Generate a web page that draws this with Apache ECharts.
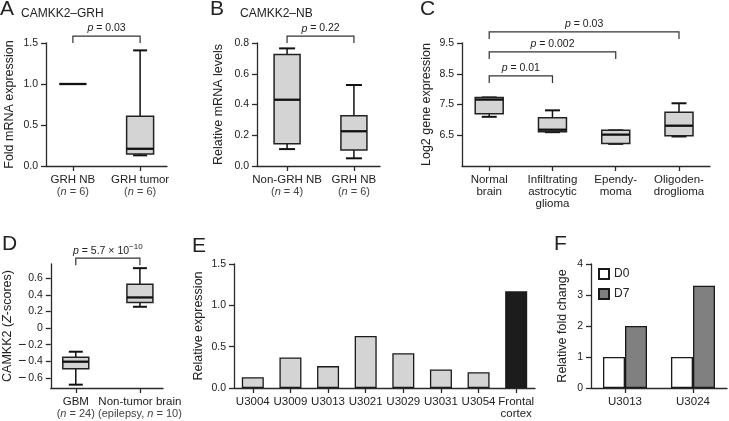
<!DOCTYPE html>
<html>
<head>
<meta charset="utf-8">
<script src="https://cdn.jsdelivr.net/npm/echarts@6/dist/echarts.min.js"></script>
<style>html,body{margin:0;padding:0;background:#fff}#c{width:729px;height:421px}</style>
</head>
<body>
<div id="c"></div>
<script>
// ---------- DATA ----------
const catsA = ['GRH NB', 'GRH tumor'];
const nA = ['6', '6'];
const boxA = [[1.0, 1.0, 1.0, 1.0, 1.0], [0.13, 0.146, 0.21, 0.606, 1.41]];
const pA = '0.03';

const catsB = ['Non-GRH NB', 'GRH NB'];
const nB = ['4', '6'];
const boxB = [[0.11, 0.145, 0.431, 0.726, 0.765], [0.05, 0.104, 0.226, 0.327, 0.527]];
const pB = '0.22';

const catsC = ['Normal\nbrain', 'Infiltrating\nastrocytic\nglioma', 'Ependy-\nmoma', 'Oligoden-\ndroglioma'];
const boxC = [[7.10, 7.20, 7.66, 7.73, 7.73], [6.60, 6.61, 6.68, 7.07, 7.31], [6.22, 6.23, 6.52, 6.66, 6.66], [6.46, 6.48, 6.81, 7.25, 7.54]];
const pC = ['0.01', '0.002', '0.03'];
const ticksC = [6.5, 7.5, 8.5, 9.5];

const catsD = ['GBM', 'Non-tumor brain'];
const subD = [['', '24'], ['epilepsy, ', '10']];
const boxD = [[-0.68, -0.488, -0.404, -0.352, -0.284], [0.256, 0.308, 0.368, 0.528, 0.72]];
const ticksD = [-0.6, -0.4, -0.2, 0, 0.2, 0.4, 0.6];

const catsE = ['U3004', 'U3009', 'U3013', 'U3021', 'U3029', 'U3031', 'U3054', 'Frontal\ncortex'];
const valsE = [0.13, 0.37, 0.265, 0.63, 0.42, 0.225, 0.19, 1.17];

const catsF = ['U3013', 'U3024'];
const d0F = [1.0, 1.0];
const d7F = [2.0, 3.3];

// ---------- STYLE ----------
const FONT = 'Liberation Sans, Arial, Helvetica, sans-serif';
const INK = '#222';
const AX = {color: '#2a2a2a', width: 1.3};

function boxRender(boxW, capW) {
  return function (params, api) {
    const x = api.value(0);
    const pMin = api.coord([x, api.value(1)]);
    const pQ1 = api.coord([x, api.value(2)]);
    const pMed = api.coord([x, api.value(3)]);
    const pQ3 = api.coord([x, api.value(4)]);
    const pMax = api.coord([x, api.value(5)]);
    const cx = pMin[0];
    const ls = {stroke: '#111', lineWidth: 1.5};
    return {
      type: 'group',
      children: [
        {type: 'line', shape: {x1: cx, y1: pMin[1], x2: cx, y2: pQ1[1]}, style: ls},
        {type: 'line', shape: {x1: cx, y1: pQ3[1], x2: cx, y2: pMax[1]}, style: ls},
        {type: 'line', shape: {x1: cx - capW / 2, y1: pMin[1], x2: cx + capW / 2, y2: pMin[1]}, style: {stroke: '#111', lineWidth: 2}},
        {type: 'line', shape: {x1: cx - capW / 2, y1: pMax[1], x2: cx + capW / 2, y2: pMax[1]}, style: {stroke: '#111', lineWidth: 2}},
        {type: 'rect', shape: {x: cx - boxW / 2, y: pQ3[1], width: boxW, height: pQ1[1] - pQ3[1]}, style: {fill: '#d4d4d4', stroke: '#222', lineWidth: 1.5}},
        {type: 'line', shape: {x1: cx - boxW / 2, y1: pMed[1], x2: cx + boxW / 2, y2: pMed[1]}, style: {stroke: '#111', lineWidth: 2.3}}
      ]
    };
  };
}

function bracketRender(texts, sup) {
  return function (params, api) {
    const a = api.coord([api.value(0), api.value(2)]);
    const b = api.coord([api.value(1), api.value(2)]);
    const drop = 7;
    const txt = texts[params.dataIndex];
    return {
      type: 'group',
      children: [
        {type: 'polyline', shape: {points: [[a[0], a[1] + drop], [a[0], a[1]], [b[0], b[1]], [b[0], b[1] + drop]]},
         style: {stroke: '#333', lineWidth: 1.2, fill: null}},
        {type: 'text', x: (a[0] + b[0]) / 2, y: a[1] - 2,
         style: {
           text: sup ? '{i|p}{t| = ' + txt + ' × 10}{s|' + sup + '}' : '{i|p}{t| = ' + txt + '}',
           align: 'center', verticalAlign: 'bottom',
           rich: {
             i: {fontStyle: 'italic', fontSize: 10.5, fontFamily: FONT, fill: INK, lineHeight: 13, verticalAlign: 'bottom'},
             t: {fontSize: 10.5, fontFamily: FONT, fill: INK, lineHeight: 13, verticalAlign: 'bottom'},
             s: {fontSize: 8, fontFamily: FONT, fill: INK, lineHeight: 8, verticalAlign: 'top'}
           }
         }}
      ]
    };
  };
}

function yAx(g, min, max, interval, name, nameGap, fmt, custom) {
  const o = {
    type: 'value', gridIndex: g, min: min, max: max,
    axisLine: {show: true, onZero: false, lineStyle: AX},
    axisTick: {show: true, length: 5, lineStyle: AX},
    splitLine: {show: false},
    axisLabel: {fontSize: 10.5, color: INK, fontFamily: FONT, margin: 8, formatter: fmt,
      rich: {m: {fontSize: 14, color: INK, fontFamily: FONT}}},
    name: name, nameLocation: 'middle', nameGap: nameGap, nameRotate: 90,
    nameTextStyle: {fontSize: 12.5, color: INK, fontFamily: FONT,
      rich: {a: {fontSize: 12.5, color: INK, fontFamily: FONT}, i: {fontSize: 12.5, color: INK, fontFamily: FONT, fontStyle: 'italic'}}}
  };
  if (interval) o.interval = interval;
  if (custom) { o.axisTick.customValues = custom; o.axisLabel.customValues = custom; }
  return o;
}

const richCat = {
  g: {fontSize: 11, color: '#444', fontFamily: FONT, lineHeight: 12},
  gi: {fontSize: 11, color: '#444', fontFamily: FONT, fontStyle: 'italic', lineHeight: 12}
};

function xAx(g, data, fmt) {
  return {
    type: 'category', gridIndex: g, data: data, boundaryGap: true,
    axisLine: {show: true, onZero: false, lineStyle: AX},
    axisTick: {show: true, alignWithLabel: true, length: 5, lineStyle: AX},
    splitLine: {show: false},
    axisLabel: {interval: 0, fontSize: 11.5, color: INK, fontFamily: FONT, margin: 8, lineHeight: 12, formatter: fmt, rich: richCat}
  };
}

// value-type x axis placing the groups at positions 0,1,2,... (labels from the category arrays)
function xVal(g, min, max, cats, fmt) {
  const idx = cats.map((c, i) => i);
  return {
    type: 'value', gridIndex: g, min: min, max: max,
    axisLine: {show: true, onZero: false, lineStyle: AX},
    axisTick: {show: true, length: 5, lineStyle: AX, customValues: idx},
    splitLine: {show: false},
    axisLabel: {fontSize: 11.5, color: INK, fontFamily: FONT, margin: 8, lineHeight: 12, customValues: idx,
      showMinLabel: true, showMaxLabel: true, rich: richCat,
      formatter: v => fmt(cats[Math.round(v)], Math.round(v))}
  };
}

const nFmt = ns => (v, i) => v + '\n{g|(}{gi|n}{g| = ' + ns[i] + ')}';
const fixed1 = v => v.toFixed(1);
const fmtD = v => Math.abs(v) < 1e-9 ? '0' : (v < 0 ? '{m|−}\u2009' + Math.abs(v).toFixed(1) : v.toFixed(1));

const chart = echarts.init(document.getElementById('c'), null, {renderer: 'canvas'});

const option = {
  backgroundColor: '#fff',
  animation: false,
  textStyle: {fontFamily: FONT},
  title: [
    {text: 'A', left: 0, top: -1, padding: 0, textStyle: {fontSize: 21, fontWeight: 'normal', color: INK, fontFamily: FONT}},
    {text: 'CAMKK2–GRH', left: 21, top: 8, padding: 0, textStyle: {fontSize: 12, fontWeight: 'normal', color: INK, fontFamily: FONT}},
    {text: 'B', left: 210, top: -1, padding: 0, textStyle: {fontSize: 21, fontWeight: 'normal', color: INK, fontFamily: FONT}},
    {text: 'CAMKK2–NB', left: 240, top: 8, padding: 0, textStyle: {fontSize: 12, fontWeight: 'normal', color: INK, fontFamily: FONT}},
    {text: 'C', left: 420, top: -1, padding: 0, textStyle: {fontSize: 21, fontWeight: 'normal', color: INK, fontFamily: FONT}},
    {text: 'D', left: 2, top: 234, padding: 0, textStyle: {fontSize: 21, fontWeight: 'normal', color: INK, fontFamily: FONT}},
    {text: 'E', left: 192, top: 236, padding: 0, textStyle: {fontSize: 21, fontWeight: 'normal', color: INK, fontFamily: FONT}},
    {text: 'F', left: 554, top: 234, padding: 0, textStyle: {fontSize: 21, fontWeight: 'normal', color: INK, fontFamily: FONT}}
  ],
  legend: {
    data: ['D0', 'D7'], orient: 'vertical', left: 598, top: 268, padding: 0,
    itemWidth: 10, itemHeight: 10, itemGap: 8, icon: 'rect',
    textStyle: {fontSize: 12, color: INK, fontFamily: FONT}
  },
  grid: [
    {left: 46, top: 43, width: 121, height: 123},
    {left: 257, top: 43, width: 123, height: 123},
    {left: 462, top: 43, width: 248, height: 123},
    {left: 46, top: 264, width: 117, height: 124},
    {left: 234, top: 264, width: 301, height: 124},
    {left: 591, top: 264, width: 136, height: 124}
  ],
  xAxis: [
    xVal(0, -0.4, 1.4, catsA, nFmt(nA)),
    xVal(1, -0.45, 1.39, catsB, nFmt(nB)),
    xVal(2, -0.43, 3.49, catsC, v => v),
    xVal(3, -0.39, 1.36, catsD, (v, i) => v + '\n{g|(' + subD[i][0] + '}{gi|n}{g| = ' + subD[i][1] + ')}'),
    xAx(4, catsE, v => v),
    xAx(5, catsF, v => v)
  ],
  yAxis: [
    yAx(0, 0, 1.5, 0.5, 'Fold mRNA expression', 30, fixed1),
    yAx(1, 0, 0.8, 0.2, 'Relative mRNA levels', 32, fixed1),
    yAx(2, 5.5, 9.5, null, 'Log2 gene expression', 29, fixed1, ticksC),
    yAx(3, -0.72, 0.77, null, '{a|CAMKK2 (}{i|Z}{a|-scores)}', 31, fmtD, ticksD),
    yAx(4, 0, 1.5, 0.5, 'Relative expression', 29, fixed1),
    yAx(5, 0, 4, 1, 'Relative fold change', 22, v => String(v))
  ],
  series: [
    {type: 'custom', xAxisIndex: 0, yAxisIndex: 0, renderItem: boxRender(27, 14), data: boxA.map((b, i) => [i].concat(b)), encode: {x: 0, y: [1, 2, 3, 4, 5]}},
    {type: 'custom', xAxisIndex: 0, yAxisIndex: 0, renderItem: bracketRender([pA]), data: [[0, 1, 1.585]], silent: true},
    {type: 'custom', xAxisIndex: 1, yAxisIndex: 1, renderItem: boxRender(26, 16), data: boxB.map((b, i) => [i].concat(b)), encode: {x: 0, y: [1, 2, 3, 4, 5]}},
    {type: 'custom', xAxisIndex: 1, yAxisIndex: 1, renderItem: bracketRender([pB]), data: [[0, 1, 0.845]], silent: true},
    {type: 'custom', xAxisIndex: 2, yAxisIndex: 2, renderItem: boxRender(28, 15), data: boxC.map((b, i) => [i].concat(b)), encode: {x: 0, y: [1, 2, 3, 4, 5]}},
    {type: 'custom', xAxisIndex: 2, yAxisIndex: 2, renderItem: bracketRender(pC), data: [[0, 1, 8.43], [0, 2, 9.21], [0, 3, 9.86]], silent: true},
    {type: 'custom', xAxisIndex: 3, yAxisIndex: 3, renderItem: boxRender(26, 14), data: boxD.map((b, i) => [i].concat(b)), encode: {x: 0, y: [1, 2, 3, 4, 5]}},
    {type: 'custom', xAxisIndex: 3, yAxisIndex: 3, renderItem: bracketRender(['5.7'], '−10'), data: [[0, 1, 0.84]], silent: true},
    {type: 'bar', xAxisIndex: 4, yAxisIndex: 4, barWidth: 22,
     data: valsE.map((v, i) => ({value: v, itemStyle: {color: i === valsE.length - 1 ? '#1c1c1c' : '#d4d4d4'}})),
     itemStyle: {borderColor: '#1a1a1a', borderWidth: 1.3}},
    {type: 'bar', name: 'D0', xAxisIndex: 5, yAxisIndex: 5, barWidth: 22, barGap: '0%', data: d0F,
     itemStyle: {color: '#ffffff', borderColor: '#1a1a1a', borderWidth: 1.3}},
    {type: 'bar', name: 'D7', xAxisIndex: 5, yAxisIndex: 5, barWidth: 22, barGap: '0%', data: d7F,
     itemStyle: {color: '#808080', borderColor: '#1a1a1a', borderWidth: 1.3}}
  ]
};
chart.setOption(option);
</script>
</body>
</html>
